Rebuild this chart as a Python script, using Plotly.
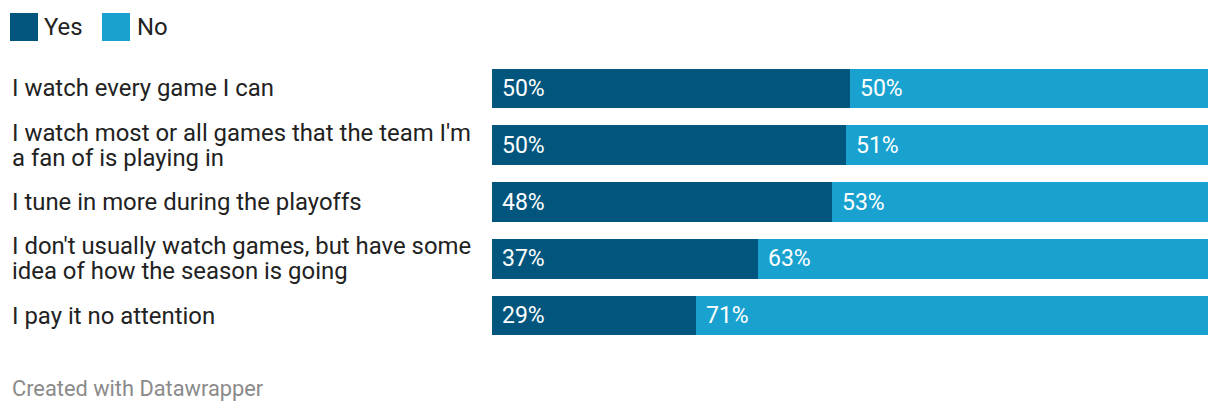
import plotly.graph_objects as go

categories = [
    "I watch every game I can",
    "I watch most or all games that the team I'm\na fan of is playing in",
    "I tune in more during the playoffs",
    "I don't usually watch games, but have some\nidea of how the season is going",
    "I pay it no attention",
]
yes_values = [50.0, 49.4, 47.5, 37.1, 28.5]
no_values = [50.0, 50.6, 52.5, 62.9, 71.5]
yes_labels = ["50%", "50%", "48%", "37%", "29%"]
no_labels = ["50%", "51%", "53%", "63%", "71%"]
series_names = ["Yes", "No"]

YES_COLOR = "#02567d"
NO_COLOR = "#19a2cf"
FONT = "Roboto"
LABEL_SIZE = 23.9
VALUE_SIZE = 23
LINE_GAP = 25

W, H = 1220, 412
ML, MR, MT, MB = 492, 12, 60, 68
PW = W - ML - MR
PH = H - MT - MB

fig = go.Figure()
fig.add_trace(go.Bar(y=categories, x=yes_values, orientation="h", name=series_names[0],
                     marker=dict(color=YES_COLOR, line=dict(width=0)), hoverinfo="skip"))
fig.add_trace(go.Bar(y=categories, x=no_values, orientation="h", name=series_names[1],
                     marker=dict(color=NO_COLOR, line=dict(width=0)), hoverinfo="skip"))

annotations = []
for cat, yv, yl, nl in zip(categories, yes_values, yes_labels, no_labels):
    annotations.append(dict(x=0, y=cat, xref="x", yref="y", text=yl, showarrow=False,
                            xanchor="left", xshift=8, font=dict(family=FONT, size=VALUE_SIZE, color="white")))
    annotations.append(dict(x=yv, y=cat, xref="x", yref="y", text=nl, showarrow=False,
                            xanchor="left", xshift=8, font=dict(family=FONT, size=VALUE_SIZE, color="white")))
    lines = cat.split("\n")
    n = len(lines)
    for i, line in enumerate(lines):
        shift = ((n - 1) / 2 - i) * LINE_GAP
        annotations.append(dict(x=-(ML - 11) / PW, y=cat, xref="paper", yref="y", text=line,
                                showarrow=False, xanchor="left", align="left", yshift=shift,
                                borderpad=0,
                                font=dict(family=FONT, size=LABEL_SIZE, color="#222222")))

def px_x(p):
    return (p - ML) / PW

def px_y(p):
    return 1 - (p - MT) / PH

shapes = []
for (x0, name, color, tx) in [(10, series_names[0], YES_COLOR, 42), (102, series_names[1], NO_COLOR, 135)]:
    shapes.append(dict(type="rect", xref="paper", yref="paper", x0=px_x(x0), x1=px_x(x0 + 28),
                       y0=px_y(41), y1=px_y(13), fillcolor=color, line=dict(width=0)))
    annotations.append(dict(x=px_x(tx), y=px_y(27), xref="paper", yref="paper", text=name, showarrow=False,
                            xanchor="left", yanchor="middle",
                            font=dict(family=FONT, size=LABEL_SIZE, color="#222222")))

annotations.append(dict(x=px_x(10), y=px_y(388), xref="paper", yref="paper", text="Created with Datawrapper",
                        showarrow=False, xanchor="left", yanchor="middle",
                        font=dict(family=FONT, size=21.8, color="#8a8a8a")))

fig.update_layout(
    width=W, height=H,
    margin=dict(l=ML, r=MR, t=MT, b=MB, pad=0),
    barmode="stack", bargap=0.3,
    plot_bgcolor="white", paper_bgcolor="white",
    showlegend=False,
    xaxis=dict(range=[0, 100], visible=False, fixedrange=True),
    yaxis=dict(autorange="reversed", showticklabels=False, showgrid=False, zeroline=False, fixedrange=True),
    annotations=annotations, shapes=shapes,
    font=dict(family=FONT),
)

fig.write_html("out.html", config={"displayModeBar": False})
